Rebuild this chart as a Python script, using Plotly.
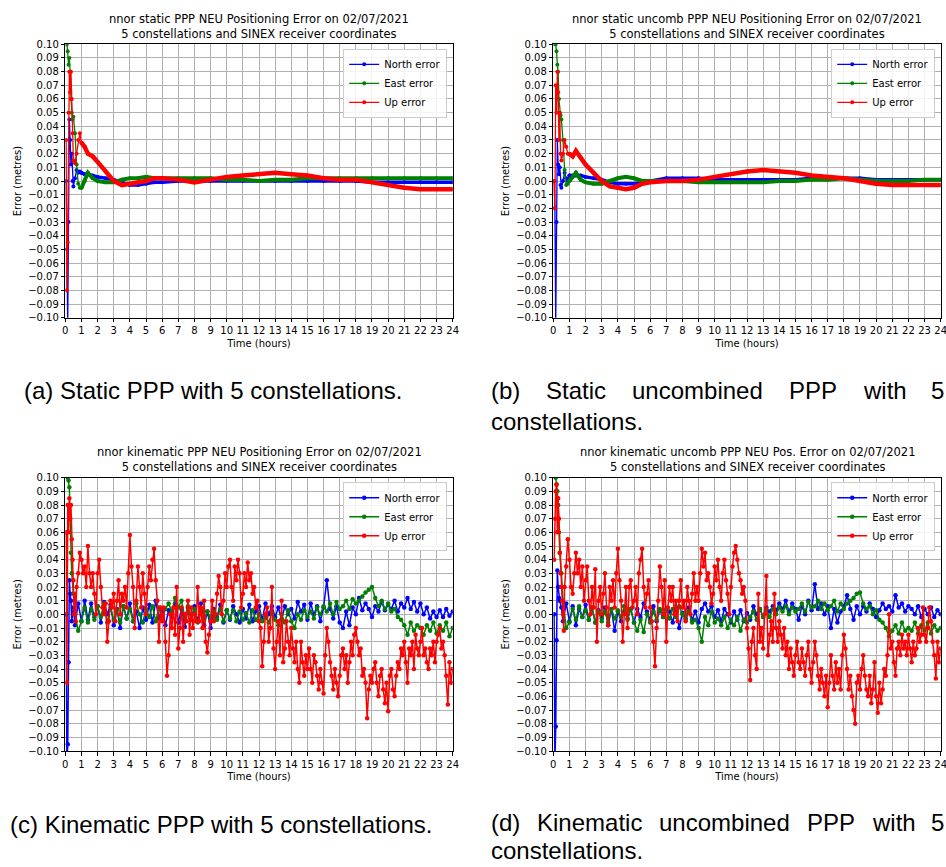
import numpy as np
import plotly.graph_objects as go

# ---------------- static solutions (a), (b) ----------------
t_static = [0.05, 0.1, 0.15, 0.2, 0.25, 0.3, 0.35, 0.4, 0.45, 0.5, 0.6, 0.7, 0.8, 0.9, 1.0,
            1.2, 1.4, 1.7, 2.0, 2.5, 3.0, 3.5, 4, 4.5, 5, 5.5, 6, 7, 8, 9, 10, 11, 12, 13,
            14, 15, 16, 17, 18, 19, 20, 21, 22, 23, 24]

north_a = [0.0, -0.05, -0.105, -0.03, 0.045, 0.03, 0.012, 0.02, 0.0, -0.004, 0.002, 0.008, 0.006, 0.007, 0.006,
           0.005, 0.005, 0.004, 0.003, 0.002, 0.001, -0.001, -0.003, -0.003, -0.002, -0.001, -0.001, 0.0, 0.0, 0.0,
           0.0, 0.0, 0.0, 0.0, 0.0, 0.0, 0.0, 0.0, 0.0, -0.001, -0.001, -0.001, -0.001, -0.001, -0.001]
east_a = [0.11, 0.10, 0.095, 0.085, 0.09, 0.08, 0.06, 0.05, 0.045, 0.047, 0.035, 0.012, -0.002, -0.005, -0.005,
          0.0, 0.006, 0.002, 0.0, -0.001, -0.001, 0.001, 0.002, 0.002, 0.003, 0.002, 0.002, 0.002, 0.002, 0.002,
          0.001, 0.001, 0.0, 0.001, 0.001, 0.002, 0.002, 0.002, 0.002, 0.002, 0.002, 0.002, 0.002, 0.002, 0.002]
up_a = [0.03, -0.08, -0.045, 0.05, 0.08, 0.065, 0.08, 0.06, 0.035, 0.015, 0.013, 0.02, 0.03, 0.035, 0.028,
        0.025, 0.02, 0.018, 0.014, 0.007, 0.0, -0.003, -0.002, -0.001, 0.0, 0.002, 0.002, 0.001, -0.001, 0.001,
        0.003, 0.004, 0.005, 0.006, 0.005, 0.004, 0.002, 0.001, 0.001, -0.001, -0.003, -0.005, -0.006, -0.006, -0.006]

north_b = [0.0, -0.02, -0.105, -0.03, 0.03, 0.012, 0.005, 0.01, -0.003, -0.005, 0.0, 0.006, 0.002, 0.0, 0.004,
           0.004, 0.004, 0.004, 0.003, 0.002, 0.001, -0.001, -0.002, -0.002, -0.002, -0.001, 0.0, 0.002, 0.002, 0.002,
           0.001, 0.001, 0.001, 0.001, 0.001, 0.001, 0.002, 0.002, 0.002, 0.002, 0.001, 0.001, 0.001, 0.001, 0.001]
east_b = [0.11, 0.10, 0.10, 0.095, 0.085, 0.08, 0.06, 0.05, 0.048, 0.045, 0.03, 0.008, -0.003, -0.002, 0.0,
          0.003, 0.006, 0.001, -0.001, -0.002, -0.002, 0.0, 0.002, 0.003, 0.002, 0.0, 0.0, 0.0, 0.0, -0.001,
          -0.001, -0.001, -0.001, -0.001, 0.0, 0.0, 0.001, 0.001, 0.002, 0.001, 0.0, 0.0, 0.0, 0.001, 0.001]
up_b = [0.0, -0.02, 0.07, 0.05, 0.08, 0.065, 0.03, 0.05, 0.02, 0.015, 0.02, 0.03, 0.025, 0.02, 0.02,
        0.018, 0.022, 0.017, 0.012, 0.006, 0.0, -0.004, -0.005, -0.006, -0.005, -0.002, -0.001, 0.0, 0.0, 0.001,
        0.003, 0.005, 0.007, 0.008, 0.007, 0.006, 0.004, 0.003, 0.002, 0.0, -0.002, -0.003, -0.003, -0.003, -0.003]

# ---------------- kinematic solutions (c), (d) ----------------
t_up_early = [0.05, 0.1, 0.15, 0.2, 0.25, 0.3, 0.35, 0.4, 0.45, 0.5, 0.55, 0.6, 0.65]
t_up = t_up_early + [round(k / 10, 1) for k in range(7, 241)]

up_c = [0.06, -0.05, 0.08, 0.06, 0.085, 0.07, 0.08, 0.055, 0.04, 0.025, 0.0, 0.015, -0.005,
        0.02, 0.03, 0.045, 0.04,
        0.03, 0.035, 0.02, 0.05, 0.03, 0.02, 0.03, 0.015, 0.0, 0.03,
        0.04, 0.02, 0.005, 0.0, 0.008, -0.02, -0.005, 0.01, 0.005, 0.015,
        -0.005, 0.01, 0.025, 0.0, 0.015, 0.01, 0.02, 0.005, 0.03, 0.058,
        0.035, 0.02, -0.01, 0.01, 0.035, 0.02, 0.005, 0.03, 0.015, 0.0,
        0.02, 0.035, 0.025, 0.04, 0.048, 0.025, 0.01, -0.02, 0.005, -0.005,
        0.005, -0.02, -0.045, -0.03, 0.0, -0.01, 0.005, -0.015, 0.02, -0.025,
        -0.01, 0.005, -0.02, 0.0, -0.005, 0.01, -0.015, 0.005, -0.01, 0.0,
        -0.005, 0.02, -0.005, 0.005, -0.01, 0.01, -0.02, -0.028, -0.015, -0.005,
        0.01, -0.005, 0.0, 0.015, 0.028, 0.02, 0.0, 0.01, 0.03, 0.02,
        0.035, 0.04, 0.02, 0.01, 0.035, 0.025, 0.04, 0.03, 0.005, 0.015,
        0.03, 0.02, 0.038, 0.025, 0.03, 0.015, 0.02, 0.005, 0.01, -0.005,
        -0.01, -0.038, -0.02, 0.0, 0.005, -0.02, -0.01, 0.02, -0.025, -0.04,
        -0.02, -0.005, -0.03, 0.01, -0.035, -0.025, -0.005, -0.02, -0.03, -0.01,
        -0.025, -0.035, -0.02, -0.04, -0.05, -0.02, -0.035, -0.045, -0.03, -0.04,
        -0.025, -0.04, -0.05, -0.03, -0.035, -0.045, -0.055, -0.04, -0.05, -0.058,
        -0.03, -0.01, -0.02, -0.035, -0.045, -0.055, -0.04, -0.05, -0.06, -0.045,
        -0.03, -0.025, -0.04, -0.03, -0.05, -0.035, -0.02, -0.03, -0.015, -0.01,
        -0.02, -0.03, -0.025, -0.045, -0.04, -0.05, -0.076, -0.055, -0.045, -0.05,
        -0.04, -0.035, -0.05, -0.06, -0.045, -0.04, -0.055, -0.065, -0.05, -0.071,
        -0.045, -0.04, -0.055, -0.06, -0.045, -0.035, -0.04, -0.025, -0.03, -0.02,
        -0.035, -0.05, -0.025, -0.03, -0.02, -0.04, -0.015, -0.025, -0.03, -0.02,
        -0.01, -0.03, -0.025, -0.035, -0.04, -0.025, -0.03, -0.02, -0.035, -0.02,
        -0.015, -0.01, -0.025, -0.02, -0.03, -0.045, -0.066, -0.035, -0.05, -0.04]

up_d = [0.04, 0.07, 0.09, 0.095, 0.06, 0.085, 0.07, 0.045, 0.03, 0.02, 0.01, 0.0, -0.012,
        0.02, 0.035, 0.055, 0.04,
        0.02, 0.015, 0.03, 0.045, 0.03, 0.04, 0.02, 0.035, 0.01, 0.025,
        0.035, 0.01, 0.0, 0.02, 0.005, 0.033, -0.02, 0.01, 0.02, 0.0,
        0.015, 0.03, 0.005, -0.008, 0.02, 0.01, 0.025, 0.005, 0.03, 0.048,
        0.025, 0.01, -0.02, 0.0, 0.02, -0.01, 0.02, 0.025, 0.005, 0.01,
        0.02, 0.0, 0.03, 0.04, 0.048, 0.02, 0.005, 0.015, 0.025, 0.005,
        -0.005, -0.02, -0.038, -0.01, 0.01, 0.035, 0.02, 0.0, 0.025, -0.02,
        0.005, 0.02, 0.01, 0.02, 0.0, 0.01, -0.005, 0.01, 0.025, 0.005,
        0.01, -0.005, 0.02, 0.01, 0.0, 0.015, 0.03, 0.01, 0.02, 0.01,
        0.03, 0.048, 0.035, 0.045, 0.025, 0.03, 0.02, 0.008, 0.015, 0.035,
        0.025, 0.04, 0.02, 0.01, 0.03, 0.04, 0.025, 0.015, 0.0, 0.02,
        0.035, 0.045, 0.05, 0.04, 0.03, 0.025, 0.015, 0.02, 0.01, -0.01,
        -0.025, -0.048, -0.02, -0.01, -0.03, -0.04, 0.015, -0.02, -0.01, -0.025,
        0.0, 0.028, -0.03, -0.015, -0.005, -0.02, 0.015, -0.01, -0.02, -0.005,
        -0.015, -0.025, -0.01, -0.03, -0.02, -0.04, -0.025, -0.035, -0.045, -0.03,
        -0.02, -0.035, -0.04, -0.025, -0.035, -0.045, -0.03, -0.02, -0.04, -0.05,
        -0.035, -0.02, -0.03, -0.045, -0.055, -0.04, -0.05, -0.06, -0.045, -0.068,
        -0.05, -0.03, -0.045, -0.055, -0.035, -0.05, -0.04, -0.055, -0.03, -0.015,
        -0.025, -0.04, -0.055, -0.045, -0.06, -0.07, -0.08, -0.05, -0.045, -0.055,
        -0.04, -0.03, -0.045, -0.055, -0.06, -0.045, -0.065, -0.055, -0.035, -0.06,
        -0.072, -0.05, -0.065, -0.055, -0.04, -0.045, -0.03, 0.0, -0.025, -0.02,
        -0.035, -0.045, -0.025, -0.02, -0.03, -0.015, -0.025, -0.02, -0.03, -0.015,
        -0.025, -0.035, -0.02, -0.03, -0.025, -0.01, -0.02, -0.015, 0.005, -0.015,
        -0.02, -0.01, 0.005, -0.005, -0.02, -0.03, -0.047, -0.02, -0.035, -0.025]

t_ne_early = [0.05, 0.1, 0.15, 0.2, 0.25, 0.3, 0.35, 0.4, 0.5, 0.6, 0.8, 1.0]
t_ne = t_ne_early + [round(h + k * 0.2, 1) for h in range(1, 24) for k in range(1, 6)]

north_c = [0.0, -0.11, -0.095, -0.035, 0.025, 0.015, 0.01, -0.005, 0.005, -0.008, 0.008, -0.005,
           0.01, -0.004, 0.008, -0.002, 0.006,
           -0.006, 0.009, 0.0, 0.007, -0.008,
           0.004, -0.01, 0.006, -0.003, 0.008,
           -0.005, 0.002, -0.01, 0.005, -0.004,
           0.007, -0.006, 0.01, -0.003, 0.004,
           -0.008, 0.003, -0.002, 0.008, -0.006,
           0.004, -0.009, 0.005, -0.004, 0.006,
           -0.005, 0.008, -0.008, 0.002, -0.01,
           0.004, -0.002, 0.007, -0.006, 0.003,
           -0.004, 0.006, 0.0, -0.006, 0.004,
           -0.003, 0.007, -0.005, 0.002, 0.006,
           -0.004, 0.008, 0.0, 0.006, -0.002,
           0.005, -0.004, 0.006, 0.0, 0.004,
           -0.003, 0.009, 0.002, 0.007, -0.004,
           0.008, 0.0, 0.006, -0.005, 0.005,
           0.025, 0.004, -0.003, 0.006, -0.006,
           -0.01, 0.002, -0.008, 0.005, 0.0,
           0.012, 0.003, 0.008, 0.004, -0.002,
           0.006, 0.002, 0.009, 0.003, 0.007,
           0.004, 0.01, 0.002, 0.008, 0.005,
           0.012, 0.004, 0.009, 0.002, 0.008,
           0.0, 0.005, -0.003, 0.002, -0.002,
           0.003, -0.002, 0.004, -0.001, 0.002]

east_c = [0.11, 0.105, 0.10, 0.098, 0.093, 0.07, 0.045, 0.03, 0.015, 0.0, -0.012, -0.005,
          0.005, -0.006, 0.004, -0.004, 0.006,
          -0.002, 0.008, -0.006, 0.005, -0.004,
          0.003, -0.006, 0.006, -0.003, 0.004,
          -0.005, 0.008, 0.0, -0.006, 0.004,
          -0.002, 0.006, -0.005, 0.005, -0.004,
          0.004, 0.008, 0.002, 0.012, 0.005,
          0.01, -0.002, 0.006, -0.004, 0.004,
          -0.006, 0.003, -0.004, 0.002, -0.002,
          0.002, -0.004, 0.004, -0.005, 0.003,
          -0.003, 0.003, -0.005, 0.002, -0.004,
          0.001, -0.006, 0.003, -0.004, 0.0,
          -0.005, -0.002, -0.006, 0.001, -0.004,
          -0.008, 0.0, -0.006, 0.003, -0.005,
          -0.01, 0.0, -0.004, 0.003, -0.002,
          0.002, -0.003, 0.005, 0.0, 0.006,
          0.002, 0.008, 0.0, 0.009, 0.004,
          0.006, 0.01, 0.004, 0.011, 0.008,
          0.01, 0.013, 0.016, 0.018, 0.02,
          0.012, 0.006, 0.01, 0.004, 0.008,
          0.002, 0.004, -0.002, -0.004, -0.008,
          -0.015, -0.006, -0.012, -0.008, -0.01,
          -0.015, -0.008, -0.012, -0.006, -0.014,
          -0.008, -0.012, -0.006, -0.016, -0.01]

north_d = [0.0, -0.11, -0.082, -0.019, 0.032, 0.02, 0.012, 0.01, 0.005, -0.005, 0.008, -0.005,
           0.006, -0.008, 0.004, -0.002, 0.007,
           -0.004, 0.005, -0.006, 0.003, -0.003,
           0.005, -0.008, 0.004, -0.012, 0.002,
           -0.005, 0.006, -0.003, 0.004, -0.006,
           0.004, -0.002, 0.008, 0.002, -0.004,
           0.006, -0.005, 0.003, -0.002, 0.004,
           0.002, -0.006, 0.005, -0.01, 0.001,
           -0.003, 0.005, -0.004, 0.002, -0.006,
           0.004, 0.008, 0.002, 0.006, -0.002,
           0.003, -0.005, 0.004, 0.0, -0.006,
           0.002, -0.004, 0.003, -0.005, 0.001,
           -0.004, 0.006, 0.0, 0.004, -0.002,
           0.005, 0.002, 0.006, 0.003, 0.008,
           0.004, 0.01, 0.002, 0.008, 0.004,
           -0.004, 0.006, 0.0, 0.01, 0.003,
           0.022, 0.004, 0.008, 0.0, 0.006,
           -0.01, 0.004, -0.006, 0.002, 0.006,
           0.014, 0.004, -0.004, 0.006, 0.0,
           0.006, 0.002, 0.008, 0.004, -0.002,
           0.003, 0.008, 0.004, 0.006, 0.002,
           0.014, 0.005, 0.008, 0.002, 0.006,
           0.004, 0.0, 0.006, -0.002, 0.004,
           0.0, 0.005, -0.002, 0.003, 0.0]

east_d = [0.11, 0.105, 0.10, 0.095, 0.09, 0.08, 0.06, 0.045, 0.03, 0.01, -0.01, -0.006,
          0.004, -0.004, 0.006, -0.002, 0.003,
          -0.004, 0.005, -0.006, 0.002, -0.005,
          0.002, -0.006, 0.004, -0.003, 0.003,
          -0.002, 0.006, -0.004, 0.004, -0.006,
          -0.012, -0.004, -0.013, 0.0, -0.006,
          0.002, -0.004, 0.004, -0.002, 0.003,
          -0.003, 0.004, -0.002, 0.006, 0.0,
          -0.004, 0.002, -0.006, -0.004, -0.01,
          -0.02, -0.002, -0.008, 0.002, -0.006,
          -0.003, -0.008, -0.002, -0.01, -0.004,
          -0.008, -0.002, -0.012, -0.004, -0.006,
          -0.002, 0.002, -0.004, 0.004, -0.002,
          0.003, -0.002, 0.004, 0.0, 0.005,
          0.002, 0.006, 0.0, 0.005, 0.002,
          0.004, 0.008, 0.002, 0.009, 0.005,
          0.006, 0.01, 0.004, 0.008, 0.003,
          0.006, 0.01, 0.002, 0.008, 0.004,
          0.008, 0.01, 0.012, 0.015, 0.016,
          0.008, 0.004, 0.006, 0.0, 0.003,
          -0.004, -0.006, -0.01, -0.016, -0.012,
          -0.008, -0.014, -0.006, -0.012, -0.01,
          -0.012, -0.006, -0.014, -0.008, -0.012,
          -0.006, -0.014, -0.008, -0.012, -0.01]

titles = [
    "nnor static PPP NEU Positioning Error on 02/07/2021<br>5 constellations and SINEX receiver coordinates",
    "nnor static uncomb PPP NEU Positioning Error on 02/07/2021<br>5 constellations and SINEX receiver coordinates",
    "nnor kinematic PPP NEU Positioning Error on 02/07/2021<br>5 constellations and SINEX receiver coordinates",
    "nnor kinematic uncomb PPP NEU Pos. Error on 02/07/2021<br>5 constellations and SINEX receiver coordinates",
]
series_names = ["North error", "East error", "Up error"]
colors = ["#0000ff", "#008000", "#ff0000"]

W, H = 946, 867
# panel pixel boxes (left, right, top, bottom)
boxes = [(65.3, 452.7, 44.3, 317.7), (553.3, 940.7, 44.3, 317.7),
         (65.3, 452.7, 477.7, 751.0), (553.3, 940.7, 477.7, 751.0)]

fig = go.Figure()

def ax_name(i, kind):
    return kind + ("" if i == 0 else str(i + 1))

static_sets = [(north_a, east_a, up_a), (north_b, east_b, up_b)]
kin_sets = [(north_c, east_c, up_c), (north_d, east_d, up_d)]

for p in range(4):
    xa = "x" if p == 0 else f"x{p+1}"
    ya = "y" if p == 0 else f"y{p+1}"
    leg = "legend" if p == 0 else f"legend{p+1}"
    if p < 2:
        data = static_sets[p]
        for s in range(3):
            t = np.array(t_static)
            v = np.array(data[s])
            early = t <= 1.0
            late = t >= 1.0
            fig.add_trace(go.Scatter(x=t[early], y=v[early], mode="lines+markers",
                                     line=dict(color=colors[s], width=1.3),
                                     marker=dict(color=colors[s], size=4),
                                     name=series_names[s], legend=leg, showlegend=True,
                                     xaxis=xa, yaxis=ya))
            fig.add_trace(go.Scatter(x=t[late], y=v[late], mode="lines+markers",
                                     line=dict(color=colors[s], width=[3.5, 4, 4.5][s]),
                                     marker=dict(color=colors[s], size=4),
                                     name=series_names[s], legend=leg, showlegend=False,
                                     xaxis=xa, yaxis=ya))
    else:
        n, e, u = kin_sets[p - 2]
        for s, (tt, vv) in enumerate([(t_ne, n), (t_ne, e), (t_up, u)]):
            fig.add_trace(go.Scatter(x=tt, y=vv, mode="lines+markers",
                                     line=dict(color=colors[s], width=1.5),
                                     marker=dict(color=colors[s], size=4.5),
                                     name=series_names[s], legend=leg,
                                     xaxis=xa, yaxis=ya))

layout = dict(width=W, height=H, margin=dict(l=0, r=0, t=0, b=0),
              paper_bgcolor="white", plot_bgcolor="white", template="none",
              font=dict(family="DejaVu Sans", size=10, color="black"),
              annotations=[])

for p, (l, r, tp, bt) in enumerate(boxes):
    xdom = [l / W, r / W]
    ydom = [1 - bt / H, 1 - tp / H]
    xa = ax_name(p, "xaxis")
    ya = ax_name(p, "yaxis")
    layout[xa] = dict(domain=xdom, anchor="y" if p == 0 else f"y{p+1}", range=[0, 24],
                      tickmode="array", tickvals=list(range(25)), ticklabeloverflow="allow",
                      showgrid=True, gridcolor="#b0b0b0", gridwidth=1,
                      showline=True, linecolor="black", linewidth=1, mirror=True,
                      ticks="outside", ticklen=3.5, tickwidth=1, tickcolor="black",
                      tickfont=dict(size=10, color="black"), zeroline=False,
                      title=dict(text="Time (hours)", font=dict(size=10), standoff=4))
    layout[ya] = dict(domain=ydom, anchor="x" if p == 0 else f"x{p+1}", range=[-0.1, 0.1],
                      tickmode="linear", tick0=-0.1, dtick=0.01, tickformat=".2f",
                      showgrid=True, gridcolor="#b0b0b0", gridwidth=1,
                      showline=True, linecolor="black", linewidth=1, mirror=True,
                      ticks="outside", ticklen=3.5, tickwidth=1, tickcolor="black",
                      tickfont=dict(size=10, color="black"), zeroline=False,
                      title=dict(text="Error (metres)", font=dict(size=10), standoff=4))
    legname = "legend" if p == 0 else f"legend{p+1}"
    layout[legname] = dict(x=(r - 5.5) / W, y=1 - (tp + 4.5) / H, xanchor="right", yanchor="top",
                           bgcolor="rgba(255,255,255,0.85)", bordercolor="#cccccc", borderwidth=1,
                           font=dict(size=10, color="black"), tracegroupgap=0,
                           itemwidth=30)
    layout["annotations"].append(dict(text=titles[p], xref="paper", yref="paper",
                                      x=(l + r) / 2 / W, y=1 - (tp - 18) / H,
                                      xanchor="center", yanchor="middle", showarrow=False,
                                      font=dict(size=11.5, color="black")))

cap_font = dict(family="Liberation Sans, Arial, sans-serif", size=24, color="black")
captions = [
    ("(a) Static PPP with 5 constellations.", 22, 390),
    ("(c) Kinematic PPP with 5 constellations.", 8, 824),
    ("constellations.", 489, 421),
    ("constellations.", 489, 850),
]
for txt, x, y in captions:
    layout["annotations"].append(dict(text=txt, xref="paper", yref="paper", x=x / W, y=1 - y / H,
                                      xanchor="left", yanchor="middle", showarrow=False, font=cap_font))
words_b = [("(b)", 489), ("Static", 544), ("uncombined", 630), ("PPP", 787), ("with", 861), ("5", 929)]
words_d = [("(d)", 489), ("Kinematic", 535), ("uncombined", 657), ("PPP", 805), ("with", 870), ("5", 929)]
for words, y in [(words_b, 390), (words_d, 822)]:
    for txt, x in words:
        layout["annotations"].append(dict(text=txt, xref="paper", yref="paper", x=x / W, y=1 - y / H,
                                          xanchor="left", yanchor="middle", showarrow=False, font=cap_font))
layout["annotations"][-1 - len(words_d) - len(words_b) + 1:]  # no-op keep order

fig.update_layout(**layout)
fig.write_html("out.html")
